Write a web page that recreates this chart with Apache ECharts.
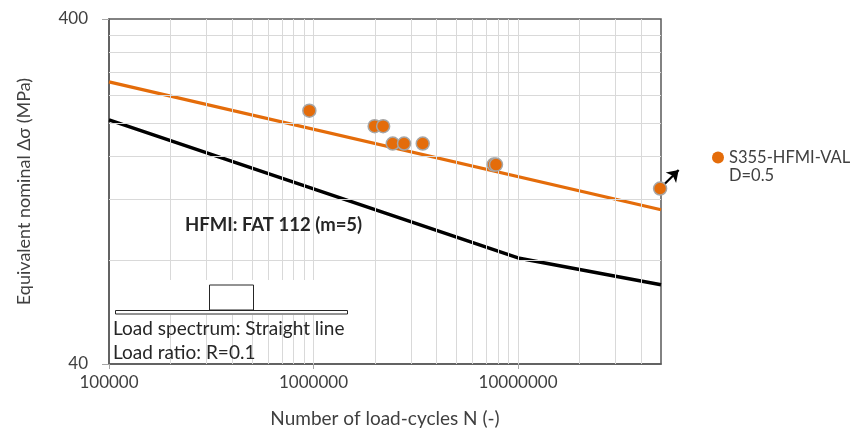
<!DOCTYPE html>
<html><head><meta charset="utf-8">
<script src="https://cdn.jsdelivr.net/npm/echarts@6/dist/echarts.min.js"></script>
<style>html,body{margin:0;padding:0;background:#fff}#c{width:858px;height:433px}</style>
</head><body><div id="c"></div>
<script>
// ---- data ----
const xTickValues = [100000, 1000000, 10000000];
const yTickValues = [40, 400];
const xGridValues = [2e5,3e5,4e5,5e5,6e5,7e5,8e5,9e5,1e6,2e6,3e6,4e6,5e6,6e6,7e6,8e6,9e6,1e7,2e7,3e7,4e7];
const yGridValues = [80,120,160,200,240,280,320,360];
const fatN = [1e5, 1e7, 5e7];
const fatS = [204, 81.2, 67.9];
const fitN = [1e5, 5e7];
const fitS = [263, 112];
const testN = [9.54e5, 1.99e6, 2.19e6, 2.44e6, 2.77e6, 3.42e6, 7.6e6, 7.8e6, 4.95e7];
const testS = [217, 195.6, 195.6, 174.2, 174.2, 174.2, 151.4, 151.4, 129];
const runoutFrom = [4.95e7, 129];
const runoutTo = [6.1e7, 146];
const seriesName = 'S355-HFMI-VAL';

const zip = (a, b) => a.map((v, i) => [v, b[i]]);
const near = (v, arr) => arr.some(t => Math.abs(v - t) / t < 1e-6);
const FONT = 'Lato';
const chart = echarts.init(document.getElementById('c'), null, {renderer: 'canvas'});
chart.setOption({
  animation: false,
  backgroundColor: '#fff',
  grid: {left: 109, right: 197, top: 19, bottom: 64, show: true, borderColor: '#595959', borderWidth: 1.5},
  xAxis: {
    type: 'log', logBase: 10, min: 1e5, max: 5e7,
    name: 'Number of load-cycles N (-)', nameLocation: 'middle', nameGap: 45,
    nameTextStyle: {fontFamily: FONT, fontSize: 19, color: '#404040'},
    axisLine: {lineStyle: {color: '#595959', width: 1.5}},
    axisTick: {show: true, length: 5, lineStyle: {color: '#a6a6a6'}, customValues: xTickValues},
    axisLabel: {fontFamily: FONT, fontSize: 17, color: '#404040', margin: 10, customValues: xTickValues,
      formatter: v => near(v, xTickValues) ? String(Math.round(v)) : ''},
    splitLine: {show: false}, minorTick: {show: false}
  },
  yAxis: {
    type: 'log', logBase: 10, min: 40, max: 400,
    name: 'Equivalent nominal Δσ (MPa)', nameLocation: 'middle', nameGap: 76,
    nameTextStyle: {fontFamily: FONT, fontSize: 18, color: '#404040'},
    axisLine: {lineStyle: {color: '#595959', width: 1.5}},
    axisTick: {show: true, length: 7, lineStyle: {color: '#a6a6a6'}, customValues: yTickValues},
    axisLabel: {fontFamily: FONT, fontSize: 17, color: '#404040', margin: 21, customValues: yTickValues,
      formatter: v => near(v, yTickValues) ? String(Math.round(v)) : ''},
    splitLine: {show: false}
  },
  legend: {
    data: [seriesName], left: 707, top: 144, icon: 'circle', itemWidth: 12, itemHeight: 12,
    itemGap: 5, itemStyle: {borderWidth: 0},
    textStyle: {fontFamily: FONT, fontSize: 16.5, color: '#404040'}
  },
  series: [
    {type: 'line', name: 'grid', data: [], z: 1, silent: true,
      markLine: {silent: true, symbol: 'none', label: {show: false},
        lineStyle: {color: '#d9d9d9', width: 1, type: 'solid'},
        data: [...xGridValues.map(v => ({xAxis: v})), ...yGridValues.map(v => ({yAxis: v}))]}},
    {type: 'line', name: 'FAT', data: zip(fatN, fatS), symbol: 'none', z: 3,
      lineStyle: {color: '#000', width: 3.5}},
    {type: 'line', name: 'fit', data: zip(fitN, fitS), symbol: 'none', z: 3,
      lineStyle: {color: '#E46C0A', width: 3.2}},
    {type: 'lines', name: 'runout', coordinateSystem: 'cartesian2d', z: 4, clip: false,
      symbol: ['none', 'arrow'], symbolSize: 11,
      lineStyle: {color: '#000', width: 2.2, opacity: 1},
      data: [{coords: [runoutFrom, runoutTo]}]},
    {type: 'scatter', name: seriesName, data: zip(testN, testS), symbol: 'circle', symbolSize: 13, z: 5, clip: false,
      itemStyle: {color: '#E46C0A', borderColor: '#A6A6A6', borderWidth: 1.5, opacity: 1}}
  ],
  graphic: [
    {type: 'text', left: 729, top: 167, z: 100, style: {text: 'D=0.5', font: '16.5px ' + FONT, fill: '#404040'}},
    {type: 'text', left: 185, top: 216, z: 100, style: {text: 'HFMI: FAT 112 (m=5)', font: 'bold 18.5px ' + FONT, fill: '#262626'}},
    {type: 'rect', shape: {x: 113, y: 280, width: 237, height: 35}, z: 90, style: {fill: '#fff'}},
    {type: 'rect', shape: {x: 209.5, y: 285, width: 44, height: 25}, z: 100, style: {fill: '#fff', stroke: '#262626', lineWidth: 1}},
    {type: 'rect', shape: {x: 115.5, y: 310.5, width: 232, height: 3.5}, z: 100, style: {fill: '#fff', stroke: '#262626', lineWidth: 1}},
    {type: 'text', left: 113, top: 319, z: 100, style: {text: 'Load spectrum: Straight line', font: '19px ' + FONT, fill: '#262626'}},
    {type: 'text', left: 113, top: 343, z: 100, style: {text: 'Load ratio: R=0.1', font: '19px ' + FONT, fill: '#262626'}}
  ]
});
</script></body></html>
